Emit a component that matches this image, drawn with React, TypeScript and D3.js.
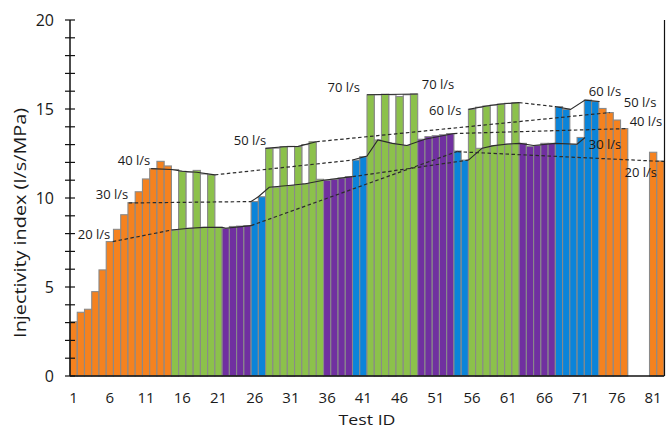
import { useMemo } from 'react';
import * as d3 from 'd3';

// Test IDs 1..82, injectivity index (l/s/MPa); null = no test shown
const testIds = d3.range(1, 83);
const values: (number | null)[] = [
  3.05, 3.58, 3.75, 4.74, 5.96, 7.55, 8.24, 9.06, 9.74, 10.35,
  11.07, 11.65, 12.06, 11.8, 8.2, 11.5, 8.3, 11.55, 8.35, 11.3,
  8.35, 8.3, 8.4, 8.42, 8.45, 9.8, 10.07, 12.79, 10.6, 12.88,
  10.7, 12.88, 10.8, 13.16, 11.05, 11.0, 11.05, 11.12, 11.2, 12.13,
  12.32, 15.8, 13.26, 15.83, 13.07, 15.7, 12.95, 15.84, 13.3, 13.45,
  13.5, 13.55, 13.62, 12.64, 12.13, 14.98, 12.79, 15.17, 12.94, 15.28,
  13.03, 15.36, 13.07, 12.9, 12.95, 13.07, 13.07, 15.13, 14.98, 13.02,
  13.4, 15.5, 15.42, 15.03, 14.8, 14.38, 13.9, null, null, null,
  12.57, 12.08,
];
// upper outline of hollow bars (white part above the coloured part)
const caps: Record<number, number> = {
  15: 11.6, 17: 11.45, 19: 11.35,
  29: 12.8, 31: 12.9, 33: 13.0,
  43: 15.8, 45: 15.8, 47: 15.8,
  57: 15.1, 59: 15.22, 61: 15.32,
};
// colour group per run of tests: [first, last, group]
const groups: [number, number, string][] = [
  [1, 14, 'orange'], [15, 21, 'green'], [22, 25, 'purple'], [26, 27, 'blue'],
  [28, 35, 'green'], [36, 39, 'purple'], [40, 41, 'blue'], [42, 48, 'green'],
  [49, 53, 'purple'], [54, 55, 'blue'], [56, 62, 'green'], [63, 67, 'purple'],
  [68, 73, 'blue'], [74, 82, 'orange'],
];

// flow-rate lines, points as [test position, index]
const r20a = [[6.4, 7.55], [14.5, 8.2]];
const r20b = [[14.5, 8.2], [17, 8.3], [19, 8.35], [21.5, 8.35], [22, 8.3], [25.5, 8.45]];
const r20c = [[25.5, 8.45], [54, 12.62]];
const r20d = [[54, 12.6], [82.5, 12.05]];
const r30a = [[8.6, 9.72], [25.5, 9.8]];
const r30b = [[25.5, 9.8], [26.5, 10.07], [28, 10.6], [31, 10.72], [33, 10.8], [35.5, 11.0], [39.5, 11.2]];
const r30c = [[39.5, 11.2], [55.5, 12.13]];
const r30d = [[55.5, 12.13], [57.4, 12.8], [59, 12.94], [61, 13.03], [62.6, 13.07], [64.5, 12.95], [67.5, 13.07], [70.5, 13.02], [71.6, 13.4]];
const r40a = [[11.7, 11.65], [14.5, 11.6], [16, 11.5], [18, 11.45], [20.5, 11.3]];
const r40b = [[20.5, 11.3], [39.5, 12.13]];
const r40c = [[39.5, 12.13], [41.5, 12.36], [43, 13.26], [45, 13.07], [47, 12.95], [48.8, 13.2], [49.5, 13.3], [53.5, 13.62]];
const r40d = [[53.5, 13.62], [77.5, 13.9]];
const r50a = [[27.5, 12.79], [30, 12.88], [32, 12.9], [34.5, 13.16]];
const r50b = [[34.5, 13.16], [75, 14.8]];
const r60a = [[55.5, 14.98], [58, 15.17], [60, 15.28], [62.5, 15.36]];
const r60b = [[62.5, 15.36], [67.6, 15.13]];
const r60c = [[67.6, 15.13], [69.6, 14.98], [71.6, 15.5], [73.6, 15.42]];
const r70a = [[41.5, 15.8], [48.5, 15.84]];

const solidLines = [r20b, r30b, r30d, r40a, r40c, r50a, r60a, r60c, r70a];
const dashedLines = [r20a, r20c, r20d, r30a, r30c, r40b, r40d, r50b, r60b];

const labelText = ['20 l/s', '30 l/s', '40 l/s', '50 l/s', '70 l/s', '70 l/s', '60 l/s', '60 l/s', '50 l/s', '40 l/s', '30 l/s', '20 l/s'];
const labelPos = [
  [3.81, 7.98], [6.3, 10.22], [9.33, 12.13], [25.35, 13.26], [38.3, 16.24], [51.3, 16.4],
  [52.3, 14.94], [74.35, 16.0], [79.2, 15.38], [80.0, 14.3], [74.35, 13.03], [79.3, 11.46],
];

const xTicks = [1, 6, 11, 16, 21, 26, 31, 36, 41, 46, 51, 56, 61, 66, 71, 76, 81];
const yTicks = [0, 5, 10, 15, 20];

const colors: Record<string, string> = {
  orange: '#F5821F',
  green: '#8CC14B',
  purple: '#7030A0',
  blue: '#0B84D9',
};

const W = 666;
const H = 434;
const FONT = "'Open Sans', sans-serif";

export default function App() {
  const x = useMemo(() => d3.scaleLinear().domain([0.5, 82.5]).range([70, 664]), []);
  const y = useMemo(() => d3.scaleLinear().domain([0, 20]).range([376, 20]), []);
  const line = d3.line<number[]>().x(d => x(d[0])).y(d => y(d[1]));

  const groupOf = (id: number) => groups.find(g => id >= g[0] && id <= g[1])![2];
  const bw = x(1.5) - x(0.5);

  return (
    <svg width={W} height={H} style={{ position: 'fixed', left: 0, top: 0, background: '#fff' }}
      fontFamily={FONT}>
      {/* hollow caps */}
      {testIds.map(id => caps[id] != null ? (
        <rect key={'c' + id} x={x(id - 0.5)} width={bw} y={y(caps[id])} height={y(0) - y(caps[id])}
          fill="#fff" stroke="#8a8a8a" strokeWidth={1.1} />
      ) : null)}
      {/* bars */}
      {testIds.map((id, i) => values[i] == null ? null : (
        <rect key={'b' + id} x={x(id - 0.5)} width={bw} y={y(values[i]!)} height={y(0) - y(values[i]!)}
          fill={colors[groupOf(id)]} stroke="#8a8a8a" strokeWidth={1.1} />
      ))}
      {/* flow-rate lines */}
      {solidLines.map((pts, i) => (
        <path key={'s' + i} d={line(pts) ?? ''} fill="none" stroke="#2b2b2b" strokeWidth={1.1} />
      ))}
      {dashedLines.map((pts, i) => (
        <path key={'d' + i} d={line(pts) ?? ''} fill="none" stroke="#2b2b2b" strokeWidth={1.2}
          strokeDasharray="3.5,2.5" />
      ))}
      {labelText.map((t, i) => (
        <text key={'l' + i} x={x(labelPos[i][0])} y={y(labelPos[i][1])} textAnchor="middle"
          dominantBaseline="central" fontSize={13} fill="#1a1a1a">{t}</text>
      ))}
      {/* axes */}
      <line x1={70} x2={70} y1={y(20)} y2={y(0)} stroke="#111" strokeWidth={1.5} />
      <line x1={70} x2={664} y1={y(0)} y2={y(0)} stroke="#111" strokeWidth={1.5} />
      <line x1={664.5} x2={664.5} y1={y(20)} y2={y(0)} stroke="#111" strokeWidth={1.2} />
      {d3.range(0, 21).map(v => (
        <line key={'t' + v} x1={65} x2={75} y1={y(v)} y2={y(v)} stroke="#111" strokeWidth={1.2} />
      ))}
      {yTicks.map(v => (
        <text key={'yl' + v} x={54} y={y(v)} textAnchor="end" dominantBaseline="central"
          fontSize={16} fill="#1a1a1a">{v}</text>
      ))}
      {xTicks.map(v => (
        <text key={'xl' + v} x={x(v)} y={397} textAnchor="middle" dominantBaseline="central"
          fontSize={15} fill="#1a1a1a">{v}</text>
      ))}
      <text x={367} y={419} textAnchor="middle" dominantBaseline="central" fontSize={15}
        textLength={57} lengthAdjust="spacingAndGlyphs" fill="#1a1a1a">Test ID</text>
      <text transform={`translate(20,${y(8.6)}) rotate(-90)`} textAnchor="middle" dominantBaseline="central"
        fontSize={16} textLength={230} lengthAdjust="spacingAndGlyphs" fill="#1a1a1a">Injectivity index (l/s/MPa)</text>
    </svg>
  );
}
